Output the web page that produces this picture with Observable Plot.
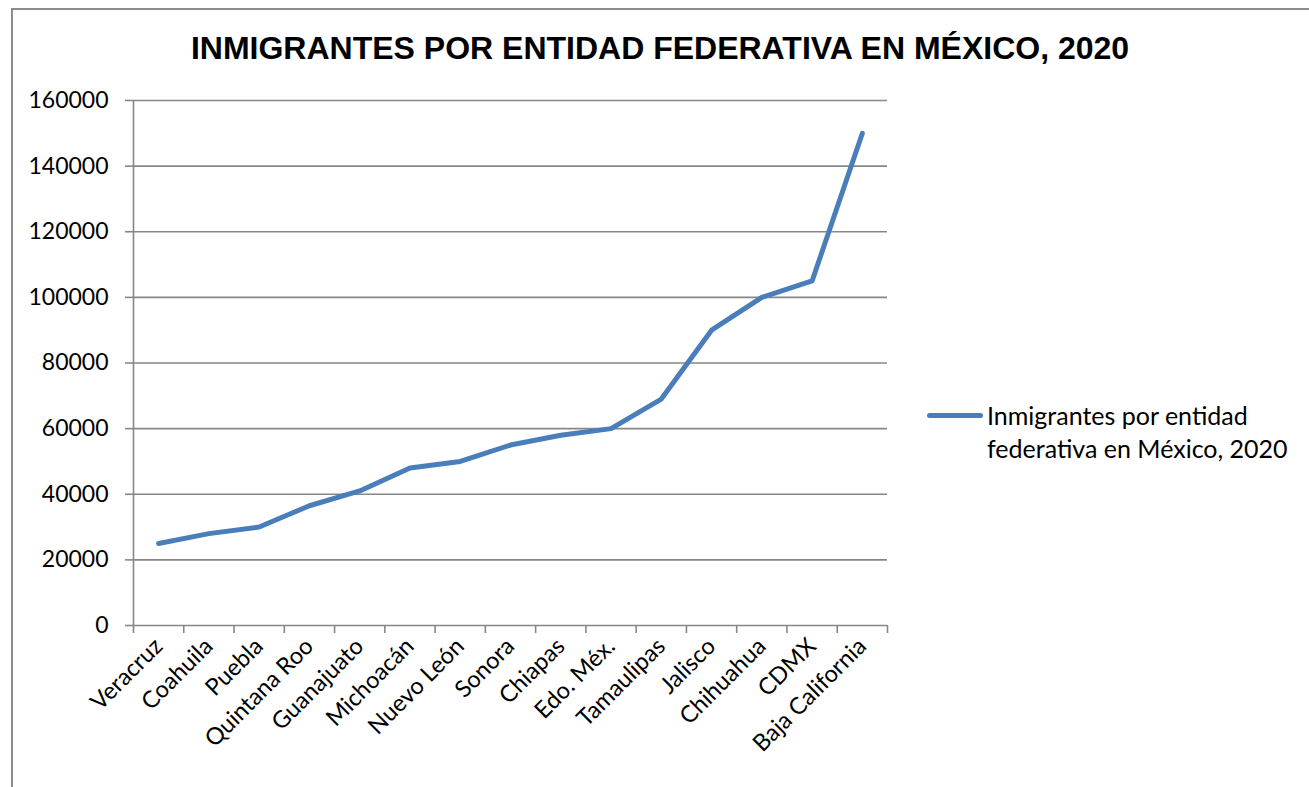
<!DOCTYPE html>
<html>
<head>
<meta charset="utf-8">
<script src="https://cdn.jsdelivr.net/npm/d3@7"></script>
<script src="https://cdn.jsdelivr.net/npm/@observablehq/plot@0.6"></script>
<style>
  html, body { margin: 0; padding: 0; background: #fff; }
  #wrap { position: relative; width: 1309px; height: 787px; overflow: hidden; background: #fff; }
  #frame { position: absolute; left: 11px; top: 8px; width: 1310px; height: 800px; border: 2px solid #8c8c8c; box-sizing: border-box; }
  #title { position: absolute; left: 11px; width: 1298px; top: 28px; text-align: center;
           font-family: "Liberation Sans", Arial, sans-serif; font-weight: bold; font-size: 32px; line-height: 40px; color: #000; }
  #chart { position: absolute; left: 0; top: 72px; }
  #legend { position: absolute; left: 927px; top: 399px; font-family: Lato, "Open Sans", sans-serif; font-size: 25px; line-height: 33px; color: #000; }
  #legend .sw { position: absolute; left: 0; top: 14px; width: 56px; height: 5px; border-radius: 3px; background: #4a7ebb; }
  #legend .tx { position: absolute; left: 60px; top: 0; white-space: nowrap; }
</style>
</head>
<body>
<div id="wrap">
  <div id="frame"></div>
  <div id="title">INMIGRANTES POR ENTIDAD FEDERATIVA EN MÉXICO, 2020</div>
  <div id="chart"></div>
  <div id="legend"><div class="sw"></div><div class="tx">Inmigrantes por entidad<br>federativa en México, 2020</div></div>
</div>
<script>
const categories = ["Veracruz", "Coahuila", "Puebla", "Quintana Roo", "Guanajuato", "Michoacán", "Nuevo León", "Sonora", "Chiapas", "Edo. Méx.", "Tamaulipas", "Jalisco", "Chihuahua", "CDMX", "Baja California"];
const values = [25000, 28000, 30000, 36500, 41000, 48000, 50000, 55000, 58000, 60000, 69000, 90000, 100000, 105000, 150000];
const yTicks = [0, 20000, 40000, 60000, 80000, 100000, 120000, 140000, 160000];
const seriesName = "Inmigrantes por entidad federativa en México, 2020";

const data = categories.map((c, i) => ({category: c, pos: i + 0.5, value: values[i]}));
const boundaries = d3.range(categories.length + 1);
const centers = categories.map((c, i) => i + 0.5);

const gridColor = "#878787";

const chart = Plot.plot({
  width: 1309,
  height: 715,
  marginTop: 28,
  marginBottom: 162,
  marginLeft: 133,
  marginRight: 422,
  style: {fontFamily: "Lato, 'Open Sans', sans-serif", fontSize: "23px", color: "#000", background: "transparent"},
  x: {type: "linear", domain: [0, categories.length], axis: null},
  y: {domain: [0, 160000], axis: null},
  marks: [
    Plot.ruleY(yTicks, {y: d => d, stroke: gridColor, strokeWidth: 1.6}),
    Plot.ruleX([0], {stroke: gridColor, strokeWidth: 1.6}),
    Plot.axisY({ticks: yTicks, label: null, tickSize: 8, tickPadding: 17, tickFormat: d => String(d), stroke: gridColor, strokeWidth: 1.6, fill: "#000", fontSize: 23}),
    Plot.axisX({ticks: boundaries, label: null, tickSize: 8, tickFormat: () => "", stroke: gridColor, strokeWidth: 1.6}),
    Plot.axisX({ticks: centers, label: null, tickSize: 0, tickPadding: 17, tickRotate: -45, tickFormat: d => categories[Math.floor(d)], fill: "#000", fontSize: 23.5}),
    Plot.line(data, {x: "pos", y: "value", stroke: "#4a7ebb", strokeWidth: 5, strokeLinecap: "round", strokeLinejoin: "round", title: d => seriesName})
  ]
});
document.getElementById("chart").appendChild(chart);
</script>
</body>
</html>
